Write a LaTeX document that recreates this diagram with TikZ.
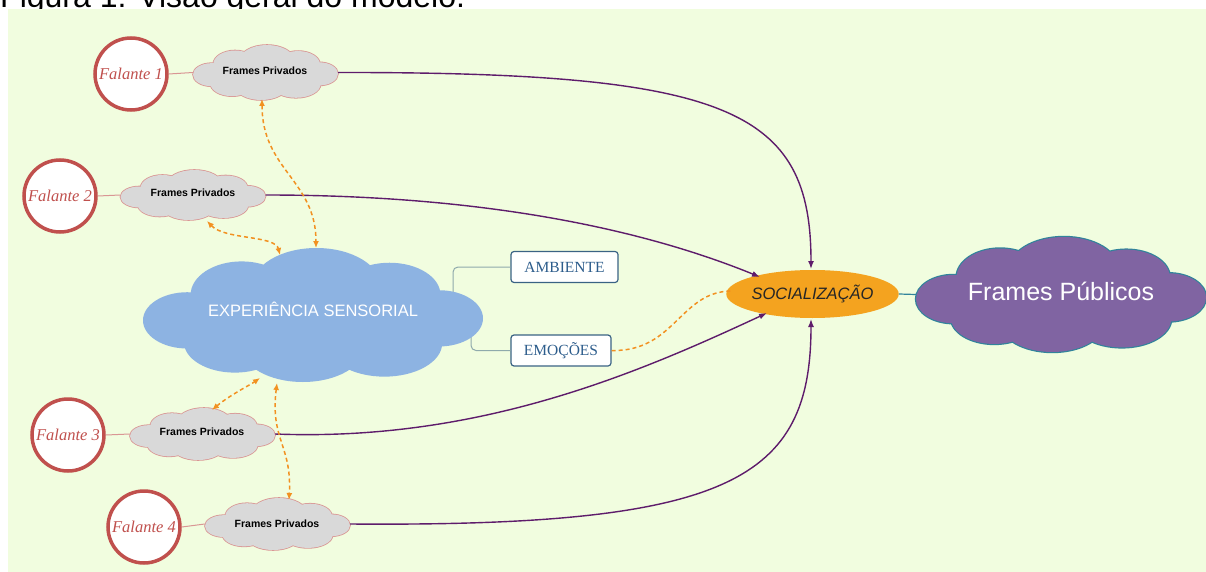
\documentclass[tikz,border=0pt]{standalone}
\usepackage{fontspec}
\setmainfont{Liberation Serif}
\setsansfont{Liberation Sans}
\usetikzlibrary{shapes.geometric,arrows.meta}

\definecolor{panel}{HTML}{F1FDDF}
\definecolor{falred}{HTML}{C0504D}
\definecolor{linkpink}{HTML}{D99694}
\definecolor{privgray}{HTML}{D9D9D9}
\definecolor{expblue}{HTML}{8DB3E2}
\definecolor{boxline}{HTML}{3A6384}
\definecolor{boxtext}{HTML}{2D5D8C}
\definecolor{elbow}{HTML}{8FAAAC}
\definecolor{socorange}{HTML}{F4A31F}
\definecolor{pubpurple}{HTML}{8064A2}
\definecolor{pubteal}{HTML}{31849B}
\definecolor{flowpurple}{HTML}{5E1C6B}
\definecolor{dashorange}{HTML}{F29121}

% lobes of a cloud, in a box from (-1,-1) to (1,1), y pointing down
\newcommand\cloudlobes[1]{%
  \path[#1]
    (-0.74, 0.08) ellipse [x radius=0.26, y radius=0.42]
    (-0.42,-0.30) ellipse [x radius=0.30, y radius=0.50]
    ( 0.02,-0.42) ellipse [x radius=0.38, y radius=0.58]
    ( 0.45,-0.30) ellipse [x radius=0.30, y radius=0.48]
    ( 0.74, 0.05) ellipse [x radius=0.26, y radius=0.42]
    ( 0.42, 0.42) ellipse [x radius=0.34, y radius=0.50]
    (-0.06, 0.48) ellipse [x radius=0.36, y radius=0.52]
    (-0.46, 0.40) ellipse [x radius=0.30, y radius=0.46]
    ( 0.00, 0.00) ellipse [x radius=0.60, y radius=0.50];}

% #1 name, #2 centre x, #3 centre y, #4 half width, #5 half height,
% #6 fill colour, #7 outline options for the under-stroke
\newcommand\puffcloud[7]{%
  \node[ellipse, inner sep=0pt, minimum width=2*#4pt, minimum height=2*#5pt]
    (#1) at (#2,#3) {};
  \begin{scope}[shift={(#2,#3)}, xscale=#4, yscale=#5]
    \cloudlobes{#7}
    \cloudlobes{fill=#6}
  \end{scope}}

\tikzset{
  falante/.style={circle, draw=falred, line width=3.5pt, fill=white,
    minimum size=72pt, inner sep=0pt, text=falred,
    font=\itshape\fontsize{16.5}{17}\selectfont},
  privlabel/.style={font=\sffamily\bfseries\fontsize{10.5}{11}\selectfont, inner sep=0pt},
  speaklink/.style={draw=linkpink, line width=1pt},
  infobox/.style={rectangle, rounded corners=3pt, draw=boxline, line width=1.2pt,
    fill=white, text=boxtext, inner sep=0pt, minimum height=31pt,
    font=\fontsize{15.5}{16}\selectfont},
  elbowlink/.style={draw=elbow, line width=1pt, rounded corners=5pt},
  flow/.style={draw=flowpurple, line width=1.4pt,
    -{Latex[length=8pt,width=6pt]}},
  senselink/.style={draw=dashorange, line width=1.5pt, dash pattern=on 4pt off 3pt,
    {Latex[length=7pt,width=6pt]}-{Latex[length=7pt,width=6pt]}},
  emolink/.style={draw=dashorange, line width=1.5pt, dash pattern=on 4pt off 3pt},
}

\begin{document}
\begin{tikzpicture}[x=1pt, y=-1pt]
  \clip (0,0) rectangle (1206,572);

  % caption above the panel
  \node[anchor=base west, inner sep=0pt, font=\sffamily\fontsize{32}{32}\selectfont]
    (caption) at (0,8) {Figura 1: Visão geral do modelo.};

  % panel
  \fill[panel] (8,9) rectangle (1206,572);

  % side boxes, their elbows start under the sensory cloud
  \node[infobox, minimum width=107pt] (amb) at (564.5,267) {AMBIENTE};
  \node[infobox, minimum width=100pt] (emo) at (561,350.5) {EMOÇÕES};
  \coordinate (ambroot) at (453,300);
  \coordinate (emoroot) at (471,328);
  \draw[elbowlink] (ambroot) |- (amb.west);
  \draw[elbowlink] (emoroot) |- (emo.west);

  % sensory experience cloud
  \puffcloud{exp}{313}{315}{170}{67}{expblue}{draw=none}
  \node[text=white, font=\sffamily\fontsize{16.5}{17}\selectfont]
    (explabel) at (313,309) {EXPERIÊNCIA SENSORIAL};

  % socialisation and public frames
  \node[ellipse, fill=socorange, draw=none, minimum width=163pt, minimum height=48pt,
        inner sep=0pt, text=black!85, font=\sffamily\itshape\fontsize{16.5}{17}\selectfont]
    (soc) at (812.5,294) {SOCIALIZAÇÃO};
  \puffcloud{pub}{1061}{294.5}{145}{57.5}{pubpurple}{draw=pubteal, line width=2.4pt}
  \node[text=white, font=\sffamily\fontsize{25}{26}\selectfont]
    (publabel) at (1061,291) {Frames Públicos};
  \draw[draw=pubteal, line width=1.2pt] (soc.east) -- (pub.west);

  % speakers and their private frames
  \node[falante] (f1) at (131,74) {Falante 1};
  \node[falante] (f2) at (60,196) {Falante 2};
  \node[falante] (f3) at (68,435) {Falante 3};
  \node[falante] (f4) at (144,527) {Falante 4};

  \puffcloud{p1}{265.5}{72.5}{72.5}{27.5}{privgray}{draw=linkpink, line width=1.6pt}
  \puffcloud{p2}{193}{195}{72.5}{25}{privgray}{draw=linkpink, line width=1.6pt}
  \puffcloud{p3}{202.5}{434}{72.5}{26}{privgray}{draw=linkpink, line width=1.6pt}
  \puffcloud{p4}{277.5}{524}{72.5}{26}{privgray}{draw=linkpink, line width=1.6pt}
  \node[privlabel] (t1) at (265,71) {Frames Privados};
  \node[privlabel] (t2) at (193,193) {Frames Privados};
  \node[privlabel] (t3) at (202,432) {Frames Privados};
  \node[privlabel] (t4) at (277,524) {Frames Privados};

  \draw[speaklink] (f1.east) -- (p1.west);
  \draw[speaklink] (f2.east) -- (p2.west);
  \draw[speaklink] (f3.east) -- (p3.west);
  \draw[speaklink] (f4.east) -- (p4.west);

  % private frames feed socialisation
  \coordinate (s1) at (811,269);
  \coordinate (s2) at (760,277);
  \coordinate (s3) at (767,313);
  \coordinate (s4) at (811,319);
  \draw[flow] (p1.east) .. controls (730,72) and (811,110) .. (s1);
  \draw[flow] (p2.east) .. controls (480,195) and (640,228) .. (s2);
  \draw[flow] (p3.east) .. controls (480,442) and (640,372) .. (s3);
  \draw[flow] (p4.east) .. controls (730,527) and (811,480) .. (s4);

  % exchanges between private frames and sensory experience
  \coordinate (e1) at (316,248);
  \coordinate (e2) at (280,255);
  \coordinate (e3) at (260,378);
  \coordinate (e4) at (277,383);
  \coordinate (q1) at (262,99);
  \coordinate (q2) at (207,221);
  \coordinate (q3) at (212,410);
  \coordinate (q4) at (289,500);
  \draw[senselink] (q1) .. controls (262,170) and (316,180) .. (e1);
  \draw[senselink] (q2) .. controls (225,240) and (275,235) .. (e2);
  \draw[senselink] (q3) .. controls (230,395) and (250,385) .. (e3);
  \draw[senselink] (e4) .. controls (270,440) and (292,445) .. (q4);

  % emotions into socialisation
  \coordinate (socw) at (732,291);
  \draw[emolink] (emo.east) .. controls (675,352) and (680,291) .. (socw);
\end{tikzpicture}
\end{document}
